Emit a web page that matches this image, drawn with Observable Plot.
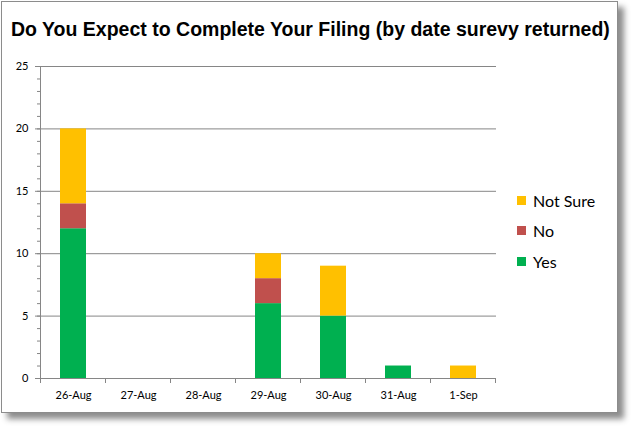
<!DOCTYPE html>
<html>
<head>
<meta charset="utf-8">
<script src="https://cdn.jsdelivr.net/npm/d3@7"></script>
<script src="https://cdn.jsdelivr.net/npm/@observablehq/plot@0.6"></script>
<style>
  html, body { margin: 0; padding: 0; background: #fff; }
  #page { position: relative; width: 637px; height: 433px; overflow: hidden; }
  #frame { position: absolute; left: 1px; top: 1px; width: 615px; height: 410px;
           border: 1px solid #8c8c8c; background: #fff;
           box-shadow: 6px 6px 6px rgba(0,0,0,0.45); }
  #title { position: absolute; left: 11px; top: 17px; white-space: nowrap; line-height: 24px;
           font-family: "Liberation Sans", Arial, sans-serif; font-weight: bold; font-size: 19.5px; color: #000; }
  #chart { position: absolute; left: 0; top: 50px; }
  #legend { position: absolute; left: 517px; top: 185px; font-family: Lato, sans-serif; font-size: 16px; color: #000; }
  .li { display: flex; align-items: center; height: 30.5px; }
  .sw { width: 9px; height: 9px; margin-right: 7px; }
</style>
</head>
<body>
<div id="page">
  <div id="frame"></div>
  <div id="title">Do You Expect to Complete Your Filing (by date surevy returned)</div>
  <div id="chart"></div>
  <div id="legend"></div>
</div>
<script>
const dates = ["26-Aug", "27-Aug", "28-Aug", "29-Aug", "30-Aug", "31-Aug", "1-Sep"];
const series = ["Yes", "No", "Not Sure"];
const colors = ["#00B050", "#C0504D", "#FFC000"];
const yesValues = [12, 0, 0, 6, 5, 1, 0];
const noValues = [2, 0, 0, 2, 0, 0, 0];
const notSureValues = [6, 0, 0, 2, 4, 0, 1];
const yTicks = [0, 5, 10, 15, 20, 25];

const valuesBySeries = [yesValues, noValues, notSureValues];
const data = [];
series.forEach((s, si) => dates.forEach((d, di) => {
  if (valuesBySeries[si][di] > 0) data.push({date: d, series: s, value: valuesBySeries[si][di]});
}));

const grid = "#868686";
const plot = Plot.plot({
  width: 500,
  height: 370,
  marginLeft: 40,
  marginRight: 4,
  marginTop: 16,
  marginBottom: 42,
  style: {fontFamily: "Lato, sans-serif", fontSize: "11px", color: "#000", background: "transparent", overflow: "visible"},
  x: {domain: dates, paddingInner: 0.6, paddingOuter: 0.3, label: null},
  y: {domain: [0, 25], label: null},
  color: {domain: series, range: colors},
  marks: [
    Plot.ruleY(yTicks.slice(1), {stroke: grid, strokeWidth: 1}),
    Plot.barY(data, {x: "date", y: "value", fill: "series", order: series}),
    Plot.axisY({ticks: d3.range(0, 26, 1), tickSize: 3, text: null, stroke: grid}),
    Plot.axisY({ticks: yTicks, tickSize: 5, tickPadding: 7, stroke: grid, fill: "#000"}),
    Plot.axisX({tickSize: 0, tickPadding: 13, fill: "#000"}),
    Plot.frame({anchor: "left", stroke: grid}),
    Plot.ruleY([0], {stroke: grid})
  ]
});
document.getElementById("chart").appendChild(plot);

// category boundary ticks on the x axis, placed from the band scale
const xs = plot.scale("x"), ys = plot.scale("y");
const step = xs.step, bw = xs.bandwidth;
const y0 = ys.apply(0);
const bounds = dates.map(d => xs.apply(d) - (step - bw) / 2);
bounds.push(xs.apply(dates[dates.length - 1]) + bw + (step - bw) / 2);
d3.select(plot).append("g").selectAll("line").data(bounds).join("line")
  .attr("x1", d => d).attr("x2", d => d).attr("y1", y0).attr("y2", y0 + 5)
  .attr("stroke", grid);

const legend = d3.select("#legend");
series.slice().reverse().forEach(s => {
  const row = legend.append("div").attr("class", "li");
  row.append("div").attr("class", "sw").style("background", colors[series.indexOf(s)]);
  row.append("span").text(s);
});
</script>
</body>
</html>
